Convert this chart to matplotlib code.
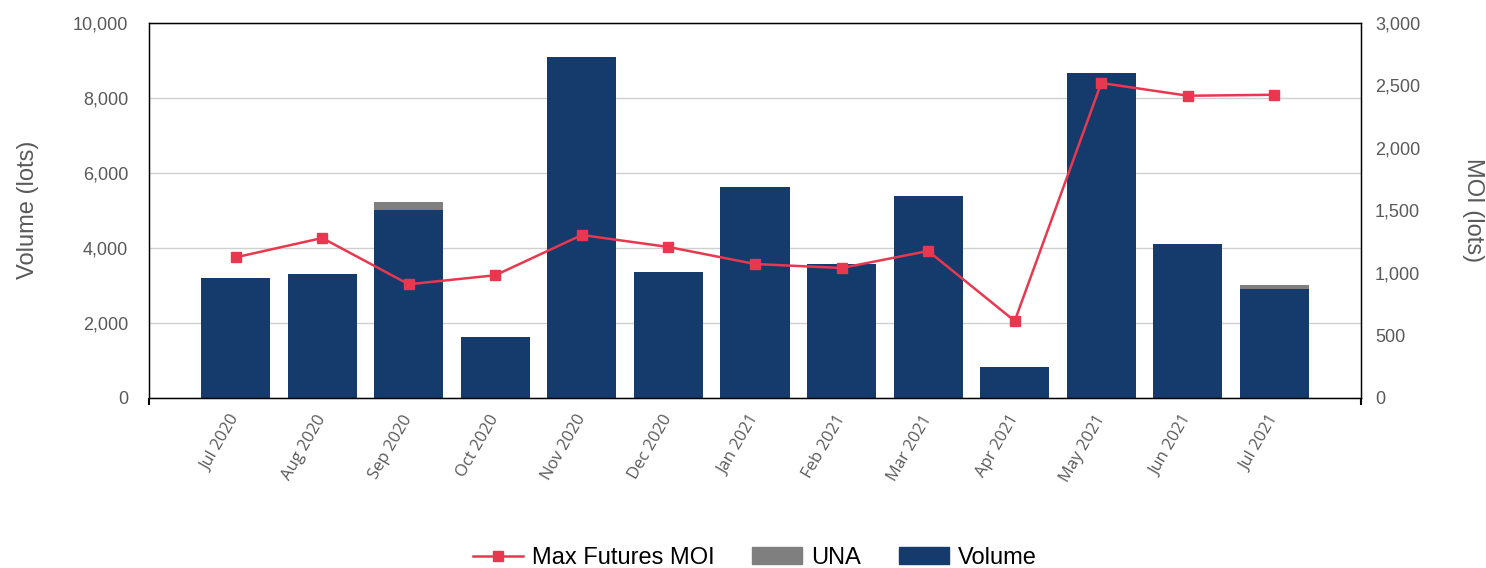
import matplotlib.pyplot as plt
import numpy as np
from matplotlib.ticker import FuncFormatter, FixedLocator
from matplotlib.transforms import ScaledTranslation
from matplotlib.lines import Line2D
from matplotlib.patches import Patch

months = ['Jul 2020', 'Aug 2020', 'Sep 2020', 'Oct 2020', 'Nov 2020', 'Dec 2020',
          'Jan 2021', 'Feb 2021', 'Mar 2021', 'Apr 2021', 'May 2021', 'Jun 2021', 'Jul 2021']
volume = [3200, 3300, 5020, 1630, 9100, 3360, 5620, 3580, 5400, 820, 8670, 4120, 2900]
una = [0, 0, 200, 0, 0, 0, 0, 0, 0, 0, 0, 0, 105]
max_moi = [1125, 1280, 910, 982, 1304, 1208, 1072, 1040, 1176, 616, 2520, 2418, 2426]

navy = '#143b6b'
grey = '#7f7f7f'
red = '#e8384f'
txt = '#595959'

plt.rcParams['font.family'] = ['Liberation Sans', 'DejaVu Sans']

fig = plt.figure(figsize=(14.86, 5.68), dpi=100)
ax = fig.add_axes([149 / 1486, 1 - 398 / 568, 1212 / 1486, 375 / 568])
x = np.arange(len(months))

ax.bar(x, volume, width=0.8, color=navy, zorder=2)
ax.bar(x, una, bottom=volume, width=0.8, color=grey, zorder=2)

ax.set_xlim(-1, len(months))
ax.set_ylim(0, 10000)
ax.set_yticks(np.arange(0, 10001, 2000))
ax.yaxis.set_major_formatter(FuncFormatter(lambda v, p: f'{v:,.0f}'))
ax.grid(axis='y', color='#d0d0d0', linewidth=1)
ax.set_axisbelow(True)
ax.tick_params(axis='y', length=0, pad=15, labelsize=13, labelcolor=txt)

ax.set_xticks(x)
ax.set_xticklabels(months, rotation=60, ha='right', va='center',
                   rotation_mode='anchor', fontsize=12, color=txt,
                   family=['Open Sans', 'DejaVu Sans'])
# nudge labels a little to the right, like the original
shift = ScaledTranslation(4 / 72, 0, fig.dpi_scale_trans)
for lbl in ax.get_xticklabels():
    lbl.set_transform(lbl.get_transform() + shift)
ax.tick_params(axis='x', which='major', length=0, pad=13)
ax.xaxis.set_minor_locator(FixedLocator(np.arange(-1, len(months) + 1, 2)))
ax.tick_params(axis='x', which='minor', length=5, width=1.5, color='black')

for s in ax.spines.values():
    s.set_color('black')
    s.set_linewidth(1)

ax2 = ax.twinx()
ax2.plot(x, max_moi, color=red, linewidth=1.8, marker='s', markersize=7, zorder=3)
ax2.set_ylim(0, 3000)
ax2.set_yticks(np.arange(0, 3001, 500))
ax2.yaxis.set_major_formatter(FuncFormatter(lambda v, p: f'{v:,.0f}'))
ax2.tick_params(axis='y', length=0, pad=10, labelsize=13, labelcolor=txt)
for s in ax2.spines.values():
    s.set_color('black')

fig.text(28 / 1486, 1 - 210 / 568, 'Volume (lots)', rotation=90,
         ha='center', va='center', fontsize=17, color=txt)
fig.text(1473 / 1486, 1 - 210 / 568, 'MOI (lots)', rotation=270,
         ha='center', va='center', fontsize=17, color=txt)

handles = [Line2D([0], [0], color=red, linewidth=1.8, marker='s', markersize=7),
           Patch(color=grey), Patch(color=navy)]
fig.legend(handles, ['Max Futures MOI', 'UNA', 'Volume'], loc='center',
           bbox_to_anchor=(755 / 1486, 1 - 558 / 568), ncol=3, frameon=False,
           fontsize=17, handlelength=2.1, handletextpad=0.4, columnspacing=1.6)

fig.savefig('out.png', dpi=100)
